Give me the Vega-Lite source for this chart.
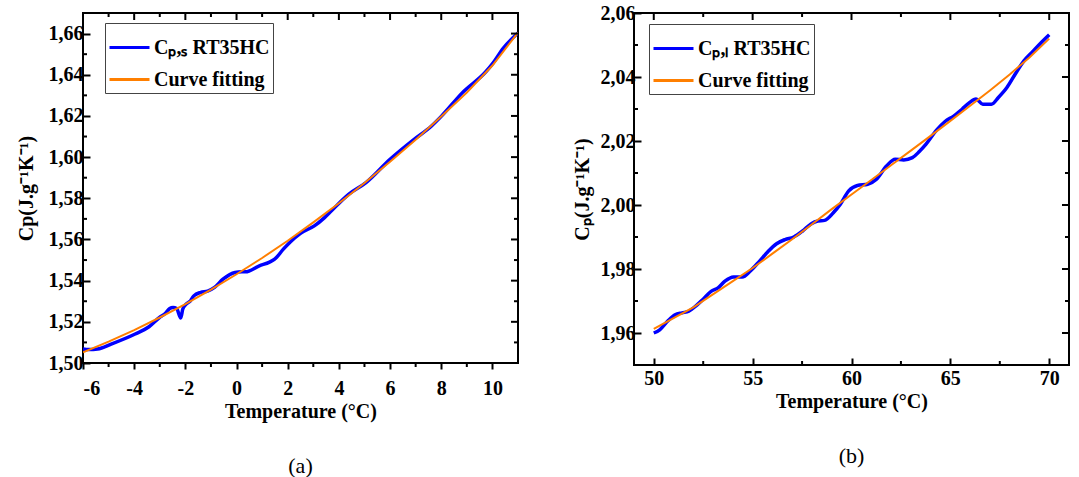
{
  "$schema": "https://vega.github.io/schema/vega-lite/v6.json",
  "padding": {"left": 15, "top": 2, "right": 5, "bottom": 5},
  "spacing": 52,
  "config": {
    "view": {"stroke": "black", "strokeWidth": 2},
    "axis": {
      "domain": false, "grid": false,
      "labelFont": "Liberation Serif", "labelFontWeight": "bold", "labelFontSize": 20, "labelColor": "black",
      "titleFont": "Liberation Serif", "titleFontWeight": "bold", "titleFontSize": 20, "titleColor": "black",
      "labelOverlap": false
    },
    "title": {"font": "Liberation Serif", "fontSize": 22, "fontWeight": "normal", "color": "black"}
  },
  "resolve": {"scale": {"color": "independent"}},
  "hconcat": [
    {
      "width": 435, "height": 350,
      "title": {"text": "(a)", "orient": "bottom", "anchor": "middle", "offset": 35},
      "data": {"values": [
        {"t": -6, "cp": 1.5068, "s": "Cₚ,ₛ RT35HC"},
        {"t": -5.77, "cp": 1.5065, "s": "Cₚ,ₛ RT35HC"},
        {"t": -5.43, "cp": 1.5068, "s": "Cₚ,ₛ RT35HC"},
        {"t": -4.9, "cp": 1.5092, "s": "Cₚ,ₛ RT35HC"},
        {"t": -3.96, "cp": 1.5141, "s": "Cₚ,ₛ RT35HC"},
        {"t": -3.42, "cp": 1.5176, "s": "Cₚ,ₛ RT35HC"},
        {"t": -3.01, "cp": 1.5221, "s": "Cₚ,ₛ RT35HC"},
        {"t": -2.81, "cp": 1.5238, "s": "Cₚ,ₛ RT35HC"},
        {"t": -2.61, "cp": 1.5265, "s": "Cₚ,ₛ RT35HC"},
        {"t": -2.48, "cp": 1.527, "s": "Cₚ,ₛ RT35HC"},
        {"t": -2.34, "cp": 1.5265, "s": "Cₚ,ₛ RT35HC"},
        {"t": -2.18, "cp": 1.5218, "s": "Cₚ,ₛ RT35HC"},
        {"t": -2.1, "cp": 1.5262, "s": "Cₚ,ₛ RT35HC"},
        {"t": -1.97, "cp": 1.5286, "s": "Cₚ,ₛ RT35HC"},
        {"t": -1.8, "cp": 1.5302, "s": "Cₚ,ₛ RT35HC"},
        {"t": -1.67, "cp": 1.5326, "s": "Cₚ,ₛ RT35HC"},
        {"t": -1.4, "cp": 1.5343, "s": "Cₚ,ₛ RT35HC"},
        {"t": -1.13, "cp": 1.5349, "s": "Cₚ,ₛ RT35HC"},
        {"t": -0.86, "cp": 1.5367, "s": "Cₚ,ₛ RT35HC"},
        {"t": -0.53, "cp": 1.5407, "s": "Cₚ,ₛ RT35HC"},
        {"t": -0.06, "cp": 1.544, "s": "Cₚ,ₛ RT35HC"},
        {"t": 0.21, "cp": 1.5443, "s": "Cₚ,ₛ RT35HC"},
        {"t": 0.35, "cp": 1.5443, "s": "Cₚ,ₛ RT35HC"},
        {"t": 0.89, "cp": 1.5472, "s": "Cₚ,ₛ RT35HC"},
        {"t": 1.29, "cp": 1.549, "s": "Cₚ,ₛ RT35HC"},
        {"t": 1.49, "cp": 1.5504, "s": "Cₚ,ₛ RT35HC"},
        {"t": 1.83, "cp": 1.5553, "s": "Cₚ,ₛ RT35HC"},
        {"t": 2.1, "cp": 1.5588, "s": "Cₚ,ₛ RT35HC"},
        {"t": 2.5, "cp": 1.563, "s": "Cₚ,ₛ RT35HC"},
        {"t": 3.04, "cp": 1.5666, "s": "Cₚ,ₛ RT35HC"},
        {"t": 3.44, "cp": 1.5706, "s": "Cₚ,ₛ RT35HC"},
        {"t": 3.71, "cp": 1.5739, "s": "Cₚ,ₛ RT35HC"},
        {"t": 4.38, "cp": 1.5819, "s": "Cₚ,ₛ RT35HC"},
        {"t": 5.06, "cp": 1.5876, "s": "Cₚ,ₛ RT35HC"},
        {"t": 6.0, "cp": 1.5989, "s": "Cₚ,ₛ RT35HC"},
        {"t": 6.94, "cp": 1.6086, "s": "Cₚ,ₛ RT35HC"},
        {"t": 7.61, "cp": 1.615, "s": "Cₚ,ₛ RT35HC"},
        {"t": 8.01, "cp": 1.6199, "s": "Cₚ,ₛ RT35HC"},
        {"t": 8.82, "cp": 1.6312, "s": "Cₚ,ₛ RT35HC"},
        {"t": 9.76, "cp": 1.6417, "s": "Cₚ,ₛ RT35HC"},
        {"t": 10.03, "cp": 1.6458, "s": "Cₚ,ₛ RT35HC"},
        {"t": 10.43, "cp": 1.653, "s": "Cₚ,ₛ RT35HC"},
        {"t": 11, "cp": 1.6603, "s": "Cₚ,ₛ RT35HC"},
        {"t": -6, "cp": 1.5052, "s": "Curve fitting"},
        {"t": -5, "cp": 1.5104, "s": "Curve fitting"},
        {"t": -4, "cp": 1.516, "s": "Curve fitting"},
        {"t": -3, "cp": 1.5221, "s": "Curve fitting"},
        {"t": -2, "cp": 1.5286, "s": "Curve fitting"},
        {"t": -1, "cp": 1.5356, "s": "Curve fitting"},
        {"t": 0, "cp": 1.5431, "s": "Curve fitting"},
        {"t": 1, "cp": 1.551, "s": "Curve fitting"},
        {"t": 2, "cp": 1.5594, "s": "Curve fitting"},
        {"t": 3, "cp": 1.5683, "s": "Curve fitting"},
        {"t": 4, "cp": 1.5776, "s": "Curve fitting"},
        {"t": 5, "cp": 1.5874, "s": "Curve fitting"},
        {"t": 6, "cp": 1.5977, "s": "Curve fitting"},
        {"t": 7, "cp": 1.6084, "s": "Curve fitting"},
        {"t": 8, "cp": 1.6197, "s": "Curve fitting"},
        {"t": 9, "cp": 1.6314, "s": "Curve fitting"},
        {"t": 10, "cp": 1.6445, "s": "Curve fitting"},
        {"t": 11, "cp": 1.6605, "s": "Curve fitting"}
      ]},
      "layer": [
        {
          "transform": [{"filter": "datum.s !== 'Curve fitting'"}],
          "mark": {"type": "line", "strokeWidth": 3.5, "interpolate": "monotone", "clip": true},
          "encoding": {
            "x": {"field": "t", "type": "quantitative", "scale": {"domain": [-6, 11], "nice": false, "zero": false},
              "axis": {"orient": "bottom", "values": [-6,-4,-2,0,2,4,6,8,10],
                "ticks": true, "tickColor": "black", "tickWidth": 2, "tickSize": 6,
                "labelExpr": "'' + datum.value",
                "labelPadding": 9, "title": "Temperature (°C)", "titlePadding": 3}},
            "y": {"field": "cp", "type": "quantitative", "scale": {"domain": [1.5, 1.67], "nice": false, "zero": false},
              "axis": {"orient": "left", "values": [1.5,1.52,1.54,1.56,1.58,1.6,1.62,1.64,1.66],
                "ticks": true, "tickColor": "black", "tickWidth": 2, "tickSize": -7,
                "labelExpr": "replace(format(datum.value, '.2f'), '.', ',')",
                "labelPadding": 7, "title": "Cp(J.g⁻¹K⁻¹)", "titlePadding": 12}},
            "color": {"field": "s", "type": "nominal",
              "scale": {"domain": ["Cₚ,ₛ RT35HC", "Curve fitting"], "range": ["#0000ff", "#ff7f00"]},
              "legend": {"title": null, "orient": "none", "legendX": 22, "legendY": 10,
                "labelFont": "Liberation Serif", "labelFontWeight": "bold", "labelFontSize": 20, "labelColor": "black",
                "symbolType": "stroke", "symbolSize": 1600, "symbolStrokeWidth": 3, "strokeColor": "#444444",
                "fillColor": "white", "padding": 3, "rowPadding": 0, "labelOffset": 3, "labelLimit": 400}}
          }
        },
        {
          "transform": [{"filter": "datum.s === 'Curve fitting'"}],
          "mark": {"type": "line", "strokeWidth": 2, "clip": true},
          "encoding": {
            "x": {"field": "t", "type": "quantitative"},
            "y": {"field": "cp", "type": "quantitative"},
            "color": {"field": "s", "type": "nominal"}
          }
        },
        {
          "data": {"values": [{"t": -6}, {"t": -5}, {"t": -4}, {"t": -3}, {"t": -2}, {"t": -1}, {"t": 0}, {"t": 1}, {"t": 2}, {"t": 3}, {"t": 4}, {"t": 5}, {"t": 6}, {"t": 7}, {"t": 8}, {"t": 9}, {"t": 10}, {"t": 11}]},
          "mark": {"type": "tick", "orient": "vertical", "color": "black", "thickness": 2, "clip": true, "opacity": 1},
          "encoding": {
            "x": {"field": "t", "type": "quantitative"},
            "y": {"datum": 1.67},
            "size": {"condition": {"test": "datum.t % 2 === 0", "value": 14}, "value": 8}
          }
        },
        {
          "data": {"values": [{"t": -5}, {"t": -3}, {"t": -1}, {"t": 1}, {"t": 3}, {"t": 5}, {"t": 7}, {"t": 9}]},
          "mark": {"type": "tick", "orient": "vertical", "color": "black", "thickness": 2, "clip": false, "opacity": 1, "size": 4, "yOffset": 2},
          "encoding": {
            "x": {"field": "t", "type": "quantitative"},
            "y": {"datum": 1.5}
          }
        },
        {
          "data": {"values": [{"cp": 1.5}, {"cp": 1.51}, {"cp": 1.52}, {"cp": 1.53}, {"cp": 1.54}, {"cp": 1.55}, {"cp": 1.56}, {"cp": 1.57}, {"cp": 1.58}, {"cp": 1.59}, {"cp": 1.6}, {"cp": 1.61}, {"cp": 1.62}, {"cp": 1.63}, {"cp": 1.64}, {"cp": 1.65}, {"cp": 1.66}, {"cp": 1.67}]},
          "mark": {"type": "tick", "orient": "horizontal", "color": "black", "thickness": 2, "clip": true, "opacity": 1},
          "encoding": {
            "y": {"field": "cp", "type": "quantitative"},
            "x": {"datum": 11},
            "size": {"condition": {"test": "round(datum.cp*100) % 2 === 0", "value": 14}, "value": 8}
          }
        },
        {
          "data": {"values": [{"cp": 1.51}, {"cp": 1.53}, {"cp": 1.55}, {"cp": 1.57}, {"cp": 1.59}, {"cp": 1.61}, {"cp": 1.63}, {"cp": 1.65}]},
          "mark": {"type": "tick", "orient": "horizontal", "color": "black", "thickness": 2, "clip": true, "opacity": 1, "size": 8},
          "encoding": {
            "y": {"field": "cp", "type": "quantitative"},
            "x": {"datum": -6}
          }
        }
      ]
    },
    {
      "width": 435, "height": 352,
      "title": {"text": "(b)", "orient": "bottom", "anchor": "middle", "offset": 35},
      "data": {"values": [
        {"t": 50, "cp": 1.96, "s": "Cₚ,ₗ RT35HC"},
        {"t": 50.3, "cp": 1.961, "s": "Cₚ,ₗ RT35HC"},
        {"t": 50.73, "cp": 1.9639, "s": "Cₚ,ₗ RT35HC"},
        {"t": 51.08, "cp": 1.9657, "s": "Cₚ,ₗ RT35HC"},
        {"t": 51.43, "cp": 1.9663, "s": "Cₚ,ₗ RT35HC"},
        {"t": 51.77, "cp": 1.9668, "s": "Cₚ,ₗ RT35HC"},
        {"t": 52.12, "cp": 1.9684, "s": "Cₚ,ₗ RT35HC"},
        {"t": 52.47, "cp": 1.9704, "s": "Cₚ,ₗ RT35HC"},
        {"t": 52.9, "cp": 1.973, "s": "Cₚ,ₗ RT35HC"},
        {"t": 53.25, "cp": 1.9741, "s": "Cₚ,ₗ RT35HC"},
        {"t": 53.6, "cp": 1.9762, "s": "Cₚ,ₗ RT35HC"},
        {"t": 54.03, "cp": 1.9775, "s": "Cₚ,ₗ RT35HC"},
        {"t": 54.47, "cp": 1.9775, "s": "Cₚ,ₗ RT35HC"},
        {"t": 54.9, "cp": 1.9795, "s": "Cₚ,ₗ RT35HC"},
        {"t": 55.34, "cp": 1.9824, "s": "Cₚ,ₗ RT35HC"},
        {"t": 55.77, "cp": 1.9854, "s": "Cₚ,ₗ RT35HC"},
        {"t": 56.21, "cp": 1.9879, "s": "Cₚ,ₗ RT35HC"},
        {"t": 56.64, "cp": 1.9892, "s": "Cₚ,ₗ RT35HC"},
        {"t": 57.08, "cp": 1.99, "s": "Cₚ,ₗ RT35HC"},
        {"t": 57.51, "cp": 1.9918, "s": "Cₚ,ₗ RT35HC"},
        {"t": 57.95, "cp": 1.9941, "s": "Cₚ,ₗ RT35HC"},
        {"t": 58.3, "cp": 1.995, "s": "Cₚ,ₗ RT35HC"},
        {"t": 58.64, "cp": 1.9952, "s": "Cₚ,ₗ RT35HC"},
        {"t": 59.08, "cp": 1.9976, "s": "Cₚ,ₗ RT35HC"},
        {"t": 59.43, "cp": 2.0002, "s": "Cₚ,ₗ RT35HC"},
        {"t": 59.86, "cp": 2.0044, "s": "Cₚ,ₗ RT35HC"},
        {"t": 60.3, "cp": 2.0061, "s": "Cₚ,ₗ RT35HC"},
        {"t": 60.82, "cp": 2.0065, "s": "Cₚ,ₗ RT35HC"},
        {"t": 61.25, "cp": 2.008, "s": "Cₚ,ₗ RT35HC"},
        {"t": 61.77, "cp": 2.0122, "s": "Cₚ,ₗ RT35HC"},
        {"t": 62.21, "cp": 2.0143, "s": "Cₚ,ₗ RT35HC"},
        {"t": 62.64, "cp": 2.0141, "s": "Cₚ,ₗ RT35HC"},
        {"t": 63.08, "cp": 2.0148, "s": "Cₚ,ₗ RT35HC"},
        {"t": 63.43, "cp": 2.0167, "s": "Cₚ,ₗ RT35HC"},
        {"t": 63.77, "cp": 2.019, "s": "Cₚ,ₗ RT35HC"},
        {"t": 64.3, "cp": 2.0234, "s": "Cₚ,ₗ RT35HC"},
        {"t": 64.73, "cp": 2.0261, "s": "Cₚ,ₗ RT35HC"},
        {"t": 65.17, "cp": 2.0278, "s": "Cₚ,ₗ RT35HC"},
        {"t": 65.6, "cp": 2.03, "s": "Cₚ,ₗ RT35HC"},
        {"t": 65.95, "cp": 2.0319, "s": "Cₚ,ₗ RT35HC"},
        {"t": 66.3, "cp": 2.0331, "s": "Cₚ,ₗ RT35HC"},
        {"t": 66.64, "cp": 2.0315, "s": "Cₚ,ₗ RT35HC"},
        {"t": 67.08, "cp": 2.0315, "s": "Cₚ,ₗ RT35HC"},
        {"t": 67.43, "cp": 2.0336, "s": "Cₚ,ₗ RT35HC"},
        {"t": 67.86, "cp": 2.0367, "s": "Cₚ,ₗ RT35HC"},
        {"t": 68.3, "cp": 2.0411, "s": "Cₚ,ₗ RT35HC"},
        {"t": 68.73, "cp": 2.0451, "s": "Cₚ,ₗ RT35HC"},
        {"t": 69.17, "cp": 2.048, "s": "Cₚ,ₗ RT35HC"},
        {"t": 69.6, "cp": 2.0508, "s": "Cₚ,ₗ RT35HC"},
        {"t": 70, "cp": 2.0532, "s": "Cₚ,ₗ RT35HC"},
        {"t": 50, "cp": 1.9613, "s": "Curve fitting"},
        {"t": 52, "cp": 1.968, "s": "Curve fitting"},
        {"t": 54, "cp": 1.9762, "s": "Curve fitting"},
        {"t": 55, "cp": 1.9803, "s": "Curve fitting"},
        {"t": 56, "cp": 1.9848, "s": "Curve fitting"},
        {"t": 57, "cp": 1.9893, "s": "Curve fitting"},
        {"t": 58, "cp": 1.994, "s": "Curve fitting"},
        {"t": 59, "cp": 1.9987, "s": "Curve fitting"},
        {"t": 60, "cp": 2.0033, "s": "Curve fitting"},
        {"t": 61, "cp": 2.0078, "s": "Curve fitting"},
        {"t": 62, "cp": 2.0124, "s": "Curve fitting"},
        {"t": 63, "cp": 2.017, "s": "Curve fitting"},
        {"t": 64, "cp": 2.0216, "s": "Curve fitting"},
        {"t": 65, "cp": 2.0263, "s": "Curve fitting"},
        {"t": 66, "cp": 2.031, "s": "Curve fitting"},
        {"t": 67, "cp": 2.0358, "s": "Curve fitting"},
        {"t": 68, "cp": 2.0408, "s": "Curve fitting"},
        {"t": 69, "cp": 2.0461, "s": "Curve fitting"},
        {"t": 70, "cp": 2.052, "s": "Curve fitting"}
      ]},
      "layer": [
        {
          "transform": [{"filter": "datum.s !== 'Curve fitting'"}],
          "mark": {"type": "line", "strokeWidth": 3.5, "interpolate": "monotone", "clip": true},
          "encoding": {
            "x": {"field": "t", "type": "quantitative", "scale": {"domain": [49, 71], "nice": false, "zero": false},
              "axis": {"orient": "bottom", "values": [50,55,60,65,70],
                "ticks": true, "tickColor": "black", "tickWidth": 2, "tickSize": -7,
                "labelExpr": "'' + datum.value",
                "labelPadding": 10, "title": "Temperature (°C)", "titlePadding": 3}},
            "y": {"field": "cp", "type": "quantitative", "scale": {"domain": [1.95, 2.06], "nice": false, "zero": false},
              "axis": {"orient": "left", "values": [1.96,1.98,2.0,2.02,2.04,2.06],
                "ticks": true, "tickColor": "black", "tickWidth": 2, "tickSize": -7,
                "labelExpr": "replace(format(datum.value, '.2f'), '.', ',')",
                "labelPadding": 6, "title": "Cₚ(J.g⁻¹K⁻¹)", "titlePadding": 8}},
            "color": {"field": "s", "type": "nominal",
              "scale": {"domain": ["Cₚ,ₗ RT35HC", "Curve fitting"], "range": ["#0000ff", "#ff7f00"]},
              "legend": {"title": null, "orient": "none", "legendX": 15, "legendY": 11,
                "labelFont": "Liberation Serif", "labelFontWeight": "bold", "labelFontSize": 20, "labelColor": "black",
                "symbolType": "stroke", "symbolSize": 1600, "symbolStrokeWidth": 3, "strokeColor": "#444444",
                "fillColor": "white", "padding": 3, "rowPadding": 0, "labelOffset": 3, "labelLimit": 400}}
          }
        },
        {
          "transform": [{"filter": "datum.s === 'Curve fitting'"}],
          "mark": {"type": "line", "strokeWidth": 2, "clip": true},
          "encoding": {
            "x": {"field": "t", "type": "quantitative"},
            "y": {"field": "cp", "type": "quantitative"},
            "color": {"field": "s", "type": "nominal"}
          }
        },
        {
          "data": {"values": [{"t": 50}, {"t": 52.5}, {"t": 55}, {"t": 57.5}, {"t": 60}, {"t": 62.5}, {"t": 65}, {"t": 67.5}, {"t": 70}]},
          "mark": {"type": "tick", "orient": "vertical", "color": "black", "thickness": 2, "clip": true, "opacity": 1},
          "encoding": {
            "x": {"field": "t", "type": "quantitative"},
            "y": {"datum": 2.06},
            "size": {"condition": {"test": "datum.t % 5 === 0", "value": 14}, "value": 8}
          }
        },
        {
          "data": {"values": [{"t": 52.5}, {"t": 57.5}, {"t": 62.5}, {"t": 67.5}]},
          "mark": {"type": "tick", "orient": "vertical", "color": "black", "thickness": 2, "clip": true, "opacity": 1, "size": 8},
          "encoding": {
            "x": {"field": "t", "type": "quantitative"},
            "y": {"datum": 1.95}
          }
        },
        {
          "data": {"values": [{"cp": 1.95}, {"cp": 1.96}, {"cp": 1.97}, {"cp": 1.98}, {"cp": 1.99}, {"cp": 2.0}, {"cp": 2.01}, {"cp": 2.02}, {"cp": 2.03}, {"cp": 2.04}, {"cp": 2.05}, {"cp": 2.06}]},
          "mark": {"type": "tick", "orient": "horizontal", "color": "black", "thickness": 2, "clip": true, "opacity": 1},
          "encoding": {
            "y": {"field": "cp", "type": "quantitative"},
            "x": {"datum": 71},
            "size": {"condition": {"test": "round(datum.cp*100) % 2 === 0", "value": 14}, "value": 8}
          }
        },
        {
          "data": {"values": [{"cp": 1.97}, {"cp": 1.99}, {"cp": 2.01}, {"cp": 2.03}, {"cp": 2.05}]},
          "mark": {"type": "tick", "orient": "horizontal", "color": "black", "thickness": 2, "clip": true, "opacity": 1, "size": 8},
          "encoding": {
            "y": {"field": "cp", "type": "quantitative"},
            "x": {"datum": 49}
          }
        }
      ]
    }
  ]
}
